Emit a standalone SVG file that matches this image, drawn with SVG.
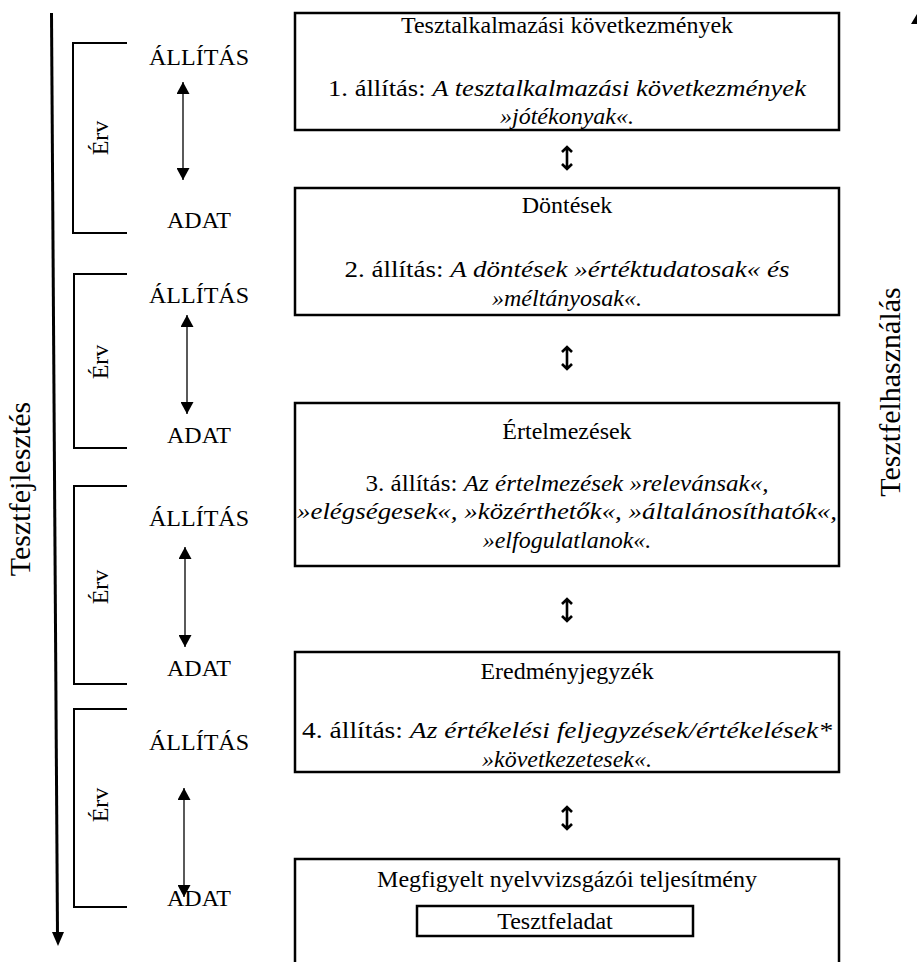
<svg xmlns="http://www.w3.org/2000/svg" width="917" height="962" viewBox="0 0 917 962">
<style>
.bx{fill:#fff;stroke:#000;stroke-width:2.5}
.t{font-size:24px;text-anchor:middle}
.lb{font-size:24px;text-anchor:middle}
.vt{font-size:30px;text-anchor:middle}
.i{font-style:italic}
.br{fill:none;stroke:#000;stroke-width:2}
.da{stroke:#000;stroke-width:1.3;marker-start:url(#ah);marker-end:url(#ah)}
.ud{fill:none;stroke:#000;stroke-width:2.6;stroke-linejoin:miter}
</style>
<defs>
<marker id="ah" viewBox="0 0 12 13" refX="12" refY="6.5" markerWidth="12" markerHeight="13" markerUnits="userSpaceOnUse" orient="auto-start-reverse">
<path d="M0,0 L12,6.5 L0,13 z" fill="#000"/>
</marker>
</defs>
<g font-family="'Liberation Serif', 'Times New Roman', 'DejaVu Serif', serif" fill="#000">

<g id="axis-left">
<line x1="51.5" y1="13" x2="57.5" y2="934" stroke="#000" stroke-width="3"/>
<polygon points="52,932 64,932 58,946" fill="#000"/>
<text class="vt" transform="translate(30,489) rotate(-90)">Tesztfejlesztés</text>
</g>

<g id="axis-right">
<polygon points="917,14 917,24 911,24" fill="#000"/>
<text class="vt" transform="translate(900,392) rotate(-90)">Tesztfelhasználás</text>
</g>

<g id="erv1">
<path class="br" d="M127,43 H73 V233 H127"/>
<text class="lb" transform="translate(108,138) rotate(-90)">Érv</text>
<text class="lb" x="199" y="65">ÁLLÍTÁS</text>
<text class="lb" x="199" y="228">ADAT</text>
</g>
<g id="erv2">
<path class="br" d="M127,274 H74 V448 H127"/>
<text class="lb" transform="translate(108,362) rotate(-90)">Érv</text>
<text class="lb" x="199" y="303">ÁLLÍTÁS</text>
<text class="lb" x="199" y="443">ADAT</text>
</g>
<g id="erv3">
<path class="br" d="M127,486 H74 V684 H127"/>
<text class="lb" transform="translate(108,587) rotate(-90)">Érv</text>
<text class="lb" x="199" y="526">ÁLLÍTÁS</text>
<text class="lb" x="199" y="676">ADAT</text>
</g>
<g id="erv4">
<path class="br" d="M127,709 H74 V907 H127"/>
<text class="lb" transform="translate(108,805) rotate(-90)">Érv</text>
<text class="lb" x="199" y="750">ÁLLÍTÁS</text>
<text class="lb" x="199" y="906">ADAT</text>
</g>

<g id="box1">
<rect class="bx" x="295" y="13" width="544" height="117"/>
<text class="t" x="567" y="33">Tesztalkalmazási következmények</text>
<text class="t" x="567" y="96" textLength="478" lengthAdjust="spacingAndGlyphs">1. állítás: <tspan class="i">A tesztalkalmazási következmények</tspan></text>
<text class="t i" x="567" y="124">»jótékonyak«.</text>
</g>
<g id="box2">
<rect class="bx" x="295" y="188" width="544" height="127"/>
<text class="t" x="567" y="213">Döntések</text>
<text class="t" x="567" y="277" textLength="445" lengthAdjust="spacingAndGlyphs">2. állítás: <tspan class="i">A döntések »értéktudatosak« és</tspan></text>
<text class="t i" x="567" y="306">»méltányosak«.</text>
</g>
<g id="box3">
<rect class="bx" x="295" y="403" width="544" height="163"/>
<text class="t" x="567" y="439">Értelmezések</text>
<text class="t" x="567" y="491" textLength="403" lengthAdjust="spacingAndGlyphs">3. állítás: <tspan class="i">Az értelmezések »relevánsak«,</tspan></text>
<text class="t i" x="567" y="519" textLength="540" lengthAdjust="spacingAndGlyphs">»elégségesek«, »közérthetők«, »általánosíthatók«,</text>
<text class="t i" x="567" y="548">»elfogulatlanok«.</text>
</g>
<g id="box4">
<rect class="bx" x="295" y="652" width="544" height="120"/>
<text class="t" x="567" y="679">Eredményjegyzék</text>
<text class="t" x="567" y="738" textLength="530" lengthAdjust="spacingAndGlyphs">4. állítás: <tspan class="i">Az értékelési feljegyzések/értékelések*</tspan></text>
<text class="t i" x="567" y="767">»következetesek«.</text>
</g>
<g id="box5">
<rect class="bx" x="295" y="859" width="544" height="120"/>
<text class="t" x="567" y="887">Megfigyelt nyelvvizsgázói teljesítmény</text>
<g id="tesztfeladat">
<rect class="bx" x="417" y="906" width="276" height="30"/>
<text class="t" x="555" y="929">Tesztfeladat</text>
</g>
</g>

<g id="connectors">
<line class="da" x1="183" y1="82" x2="183" y2="180"/>
<line class="da" x1="187" y1="315" x2="187" y2="414"/>
<line class="da" x1="185" y1="547" x2="185" y2="647"/>
<line class="da" x1="184" y1="788" x2="184" y2="897"/>
<path class="ud" d="M567,147 V169 M562,152 L567,147 L572,152 M562,164 L567,169 L572,164"/>
<path class="ud" d="M567,347 V369 M562,352 L567,347 L572,352 M562,364 L567,369 L572,364"/>
<path class="ud" d="M567,599 V621 M562,604 L567,599 L572,604 M562,616 L567,621 L572,616"/>
<path class="ud" d="M567,807 V829 M562,812 L567,807 L572,812 M562,824 L567,829 L572,824"/>
</g>
</g>
</svg>
